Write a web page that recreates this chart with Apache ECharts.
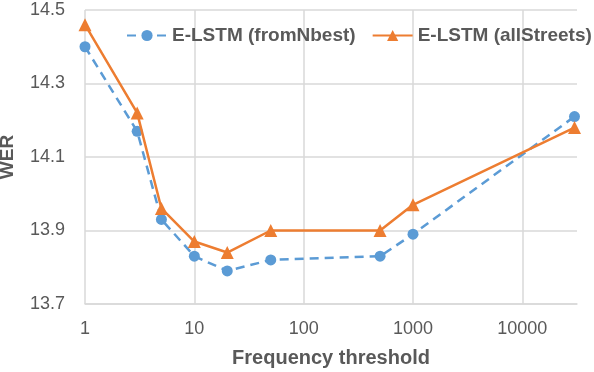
<!DOCTYPE html>
<html>
<head>
<meta charset="utf-8">
<script src="https://cdn.jsdelivr.net/npm/echarts@6/dist/echarts.min.js"></script>
<style>
html,body{margin:0;padding:0;background:#fff;}
#chart{width:594px;height:372px;}
</style>
</head>
<body>
<div id="chart"></div>
<script>
const thresholds = [1, 3, 5, 10, 20, 50, 500, 1000, 30000];
const fromNbest = [14.40, 14.17, 13.93, 13.83, 13.79, 13.82, 13.83, 13.89, 14.21];
const allStreets = [14.46, 14.22, 13.96, 13.87, 13.84, 13.90, 13.90, 13.97, 14.18];
const seriesNames = ['E-LSTM (fromNbest)', 'E-LSTM (allStreets)'];
const yTickLabels = ['13.7', '13.9', '14.1', '14.3', '14.5'];
const xTickLabels = ['1', '10', '100', '1000', '10000'];

const chart = echarts.init(document.getElementById('chart'), null, {renderer: 'canvas'});
const txt = '#595959';
const gridC = '#d9d9d9';
const font = '"Liberation Sans", Arial, sans-serif';

chart.setOption({
  backgroundColor: '#ffffff',
  animation: false,
  grid: {left: 85, right: 17, top: 10, bottom: 68, containLabel: false, outerBoundsMode: 'none'},
  legend: {
    orient: 'horizontal',
    left: 121, top: 21, width: 473,
    itemWidth: 40, itemHeight: 14, itemGap: 16,
    textStyle: {color: txt, fontFamily: font, fontWeight: 'bold', fontSize: 19},
    data: seriesNames
  },
  xAxis: {
    type: 'log', logBase: 10, min: 1, max: 31623,
    name: 'Frequency threshold', nameLocation: 'middle', nameGap: 44,
    nameTextStyle: {color: txt, fontFamily: font, fontWeight: 'bold', fontSize: 20},
    axisLine: {show: true, lineStyle: {color: gridC, width: 1.5}},
    axisTick: {show: false},
    axisLabel: {
      color: txt, fontFamily: font, fontSize: 18, margin: 16,
      showMaxLabel: false,
      formatter: function (v) {
        const s = String(Math.round(v));
        return xTickLabels.indexOf(s) >= 0 ? s : '';
      }
    },
    splitLine: {show: true, showMaxLine: false, lineStyle: {color: gridC, width: 1.5}}
  },
  yAxis: {
    type: 'value', min: 13.7, max: 14.5, interval: 0.1,
    name: 'WER', nameLocation: 'middle', nameGap: 68, nameRotate: 90,
    nameTextStyle: {color: txt, fontFamily: font, fontWeight: 'bold', fontSize: 19},
    axisLine: {show: false},
    axisTick: {show: false},
    axisLabel: {
      color: txt, fontFamily: font, fontSize: 18, margin: 20,
      formatter: function (v) {
        const s = v.toFixed(1);
        return yTickLabels.indexOf(s) >= 0 ? s : '';
      }
    },
    splitLine: {show: true, lineStyle: {color: [gridC, 'rgba(0,0,0,0)'], width: 1.5}}
  },
  series: [
    {
      name: seriesNames[0], type: 'line',
      data: thresholds.map((x, i) => [x, fromNbest[i]]),
      symbol: 'circle', symbolSize: 11,
      itemStyle: {color: '#5B9BD5'},
      lineStyle: {color: '#5B9BD5', width: 2.5, type: [9, 6]},
      z: 2
    },
    {
      name: seriesNames[1], type: 'line',
      data: thresholds.map((x, i) => [x, allStreets[i]]),
      symbol: 'triangle', symbolSize: 13,
      itemStyle: {color: '#ED7D31'},
      lineStyle: {color: '#ED7D31', width: 2.5},
      z: 3
    }
  ]
});
</script>
</body>
</html>
